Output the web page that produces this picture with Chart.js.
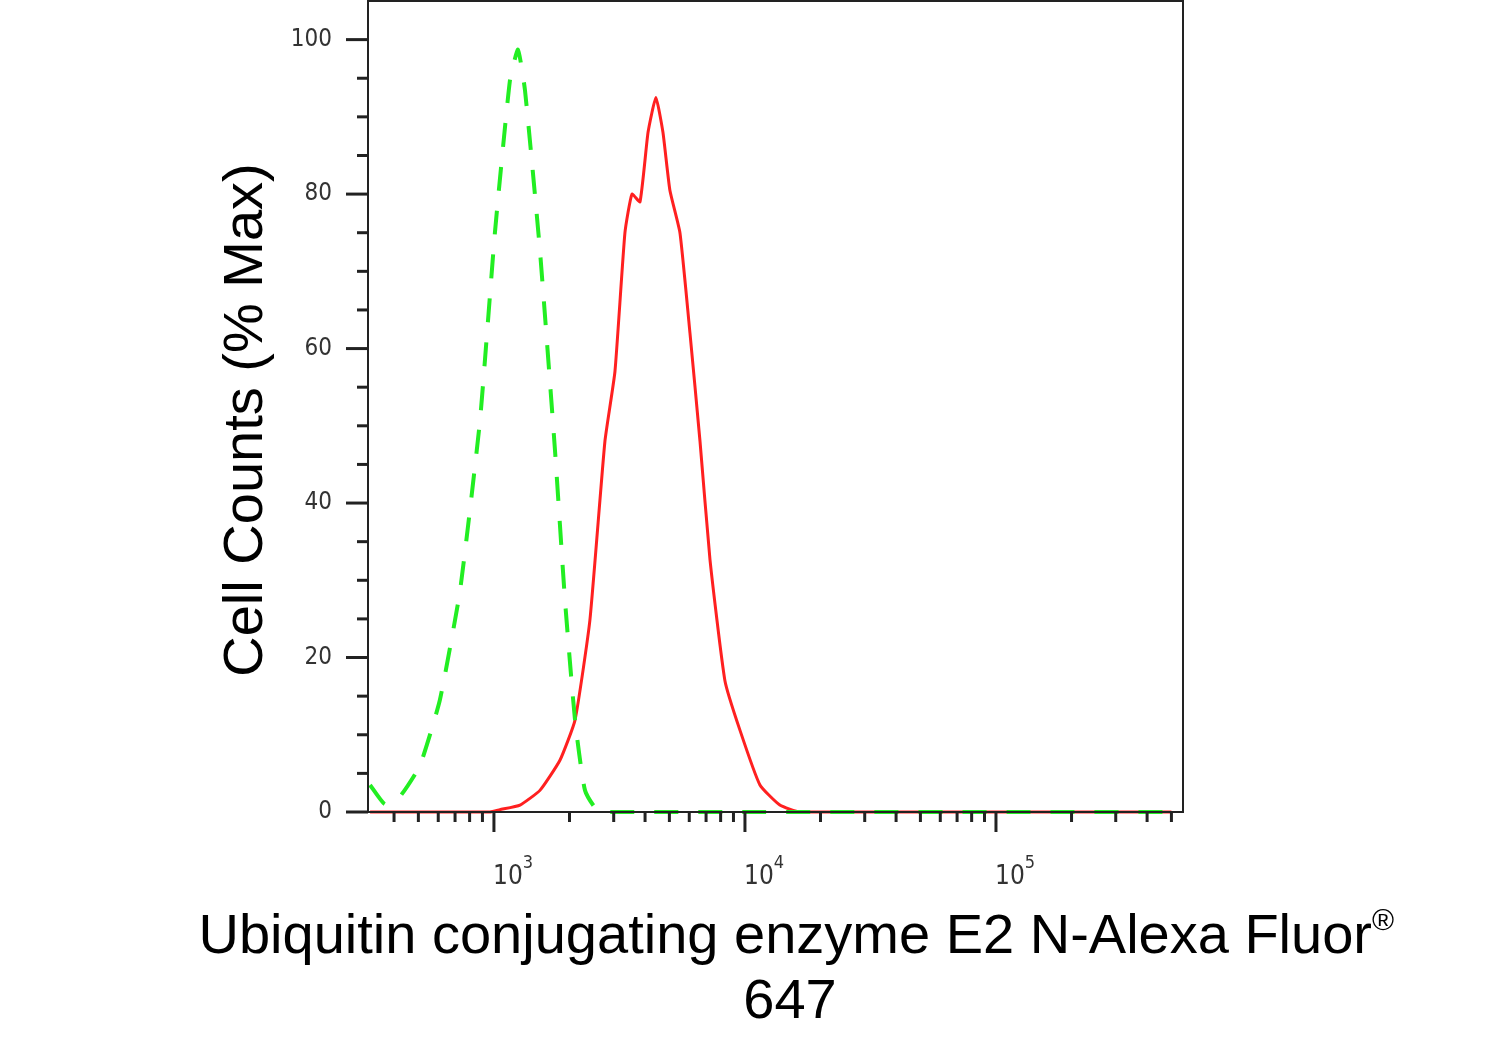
<!DOCTYPE html>
<html>
<head>
<meta charset="utf-8">
<script src="https://cdn.jsdelivr.net/npm/chart.js@4/dist/chart.umd.min.js"></script>
<style>
  html, body { margin: 0; padding: 0; background: #fff; }
  #wrap { width: 1506px; height: 1037px; position: relative; }
</style>
</head>
<body>
<div id="wrap"><canvas id="histo"></canvas></div>
<script>
const greenX = [321, 368, 422, 507, 609, 733, 880, 1009, 1158, 1247, 1330, 1525, 1751, 1919, 2104, 2306, 2645, 500000];
const greenY = [3.5, 1, 2, 6, 14.5, 28.7, 50.7, 75, 94.7, 98.7, 93.4, 72.7, 46.8, 27.4, 11.9, 2.8, 0, 0];
const redX = [321, 964, 1056, 1270, 1525, 1832, 2104, 2411, 2768, 3034, 3326, 3548, 3818, 4111, 4418, 4713, 5023, 5508, 6039, 6621, 7259, 8322, 9550, 11475, 13770, 16560, 500000];
const redY = [0, 0, 0.3, 0.9, 2.8, 6.7, 11.9, 24.8, 48, 57, 75, 80, 79, 88, 92.5, 88, 80.5, 75, 62, 48, 32.6, 17, 10.6, 3.5, 0.9, 0, 0];
const yTicks = [0, 20, 40, 60, 80, 100];
const xDecades = [3, 4, 5];

const toPoints = (xs, ys) => xs.map((x, i) => ({ x: x, y: ys[i] }));

/*...........axes, ticks and titles drawn by hand...........*/
const frame = {
  id: 'frame',
  afterDraw(chart) {
    const c = chart.ctx, a = chart.chartArea;
    const xs = chart.scales.x, ys = chart.scales.y;
    c.save();
    c.strokeStyle = '#222';
    c.lineWidth = 2;
    c.strokeRect(a.left, a.top, a.right - a.left, a.bottom - a.top);
    c.lineWidth = 3;
    // y ticks
    for (let v = 0; v <= 100; v += 5) {
      const p = ys.getPixelForValue(v);
      const len = v % 20 === 0 ? 22 : 11;
      c.beginPath(); c.moveTo(a.left - len, p); c.lineTo(a.left, p); c.stroke();
    }
    c.fillStyle = '#333';
    c.font = '24px "Liberation Sans Narrow", "DejaVu Sans Condensed", sans-serif';
    c.textAlign = 'right'; c.textBaseline = 'middle';
    yTicks.forEach(v => c.fillText(String(v), a.left - 36, ys.getPixelForValue(v)));
    // x ticks
    for (let d = 2; d <= 5; d++) {
      for (let m = 1; m <= 9; m++) {
        const v = m * Math.pow(10, d);
        if (v < xs.min || v > xs.max) continue;
        const p = xs.getPixelForValue(v);
        const len = m === 1 ? 20 : 10;
        c.beginPath(); c.moveTo(p, a.bottom); c.lineTo(p, a.bottom + len); c.stroke();
      }
    }
    c.textAlign = 'center'; c.textBaseline = 'alphabetic';
    xDecades.forEach(d => {
      const p = xs.getPixelForValue(Math.pow(10, d));
      c.font = '26px "Liberation Sans Narrow", "DejaVu Sans Condensed", sans-serif';
      c.fillText('10', p + 14, a.bottom + 72);
      c.font = '18px "Liberation Sans Narrow", "DejaVu Sans Condensed", sans-serif';
      c.fillText(String(d), p + 34, a.bottom + 56);
    });
    // titles
    c.fillStyle = '#000';
    c.font = '56px "Liberation Sans", Arial, sans-serif';
    c.textAlign = 'left'; c.textBaseline = 'middle';
    const t = 'Ubiquitin conjugating enzyme E2 N-Alexa Fluor';
    const w = c.measureText(t).width;
    const x0 = 1372 - w;
    c.fillText(t, x0, 938);
    c.font = '30px "Liberation Sans", Arial, sans-serif';
    c.fillText('®', 1372, 922);
    c.font = '56px "Liberation Sans", Arial, sans-serif';
    c.textAlign = 'center';
    c.fillText('647', 790, 1003);
    c.translate(247, 420);
    c.rotate(-Math.PI / 2);
    c.fillText('Cell Counts (% Max)', 0, 0);
    c.restore();
  }
};

const config = {
  type: 'scatter',
  data: {
    datasets: [
      {
        label: 'Control',
        data: toPoints(greenX, greenY),
        showLine: true,
        borderColor: '#22ee22',
        borderWidth: 4,
        borderDash: [24, 20],
        pointRadius: 0,
        tension: 0.15
      },
      {
        label: 'Ubiquitin conjugating enzyme E2 N',
        data: toPoints(redX, redY),
        showLine: true,
        borderColor: '#ff2020',
        borderWidth: 3,
        pointRadius: 0,
        tension: 0.15
      }
    ]
  },
  options: {
    responsive: false,
    animation: false,
    clip: false,
    layout: { padding: { left: 368, right: 323, top: 1, bottom: 225 } },
    plugins: { legend: { display: false }, tooltip: { enabled: false } },
    scales: {
      x: { type: 'logarithmic', min: 315, max: 556000, display: false },
      y: { min: 0, max: 105, display: false }
    }
  },
  plugins: [frame]
};

const canvas = document.getElementById('histo');
canvas.width = 1506;
canvas.height = 1037;
const histo = new Chart(canvas.getContext('2d'), config);
</script>
</body>
</html>
